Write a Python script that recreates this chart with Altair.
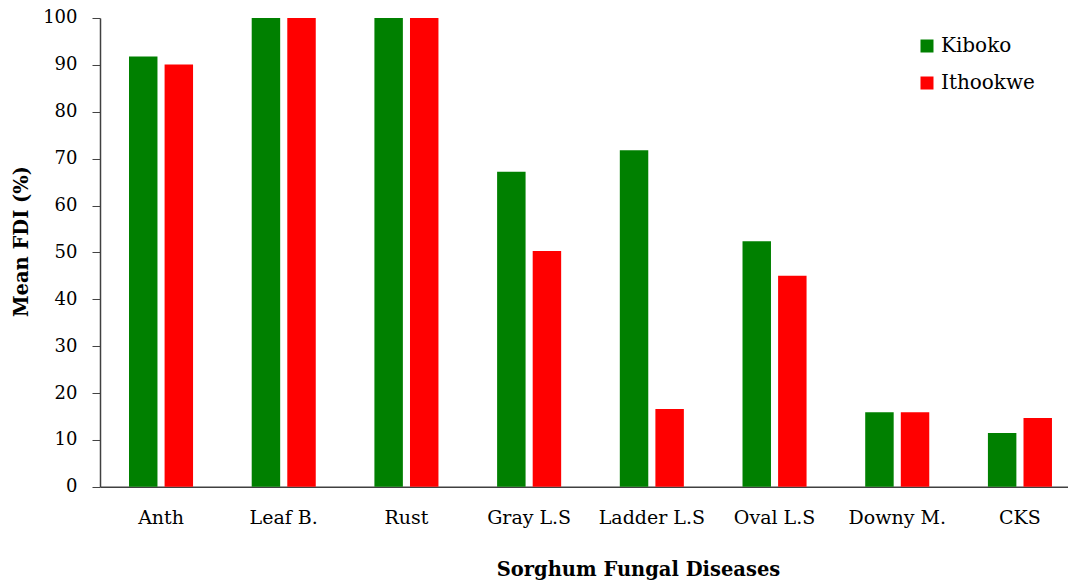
import altair as alt
import pandas as pd

diseases = ["Anth", "Leaf B.", "Rust", "Gray L.S", "Ladder L.S", "Oval L.S", "Downy M.", "CKS"]
series = ["Kiboko", "Ithookwe"]
kiboko = [91.8, 100, 100, 67.2, 71.8, 52.4, 15.9, 11.5]
ithookwe = [90.1, 100, 100, 50.3, 16.6, 45.0, 15.9, 14.7]
colors = ["#008000", "#FF0000"]

rows = []
for d, k, i in zip(diseases, kiboko, ithookwe):
    rows.append({"disease": d, "site": "Kiboko", "fdi": k})
    rows.append({"disease": d, "site": "Ithookwe", "fdi": i})
df = pd.DataFrame(rows)

FONT = "DejaVu Serif"

chart = alt.Chart(df).mark_bar().encode(
    x=alt.X("disease:N", sort=diseases,
            scale=alt.Scale(paddingInner=0.478, paddingOuter=0.1835, align=0.644),
            axis=alt.Axis(title="Sorghum Fungal Diseases", labelAngle=0, ticks=False,
                          labelPadding=22, titlePadding=33, titleX=538,
                          labelFontSize=19, titleFontSize=19.5,
                          domainColor="#404040", domainWidth=1.5)),
    xOffset=alt.XOffset("site:N", sort=series, scale=alt.Scale(paddingInner=0.2)),
    y=alt.Y("fdi:Q", scale=alt.Scale(domain=[0, 100], nice=False),
            axis=alt.Axis(title="Mean FDI (%)", values=list(range(0, 101, 10)),
                          tickSize=8, labelPadding=15, grid=False, titlePadding=11,
                          titleY=223,
                          labelFontSize=18, titleFontSize=19.5,
                          domainColor="#404040", tickColor="#404040", domainWidth=1.5)),
    color=alt.Color("site:N", sort=series,
                    scale=alt.Scale(domain=series, range=colors),
                    legend=alt.Legend(title=None, orient="none", legendX=817, legendY=18,
                                      symbolType="square", symbolSize=169, symbolStrokeWidth=0,
                                      labelFontSize=20, labelFont=FONT, rowPadding=17,
                                      padding=0, labelColor="#000000")),
).properties(
    width=968,
    height=468.8,
    autosize=alt.AutoSizeParams(type="none"),
    padding={"left": 92, "top": 10, "right": 0, "bottom": 94},
).configure_view(
    stroke=None
).configure_axis(
    labelFont=FONT, titleFont=FONT,
    labelColor="#000000", titleColor="#000000", titleFontWeight="bold"
)

chart.save("out.html", embed_options={"renderer": "svg", "actions": False})
